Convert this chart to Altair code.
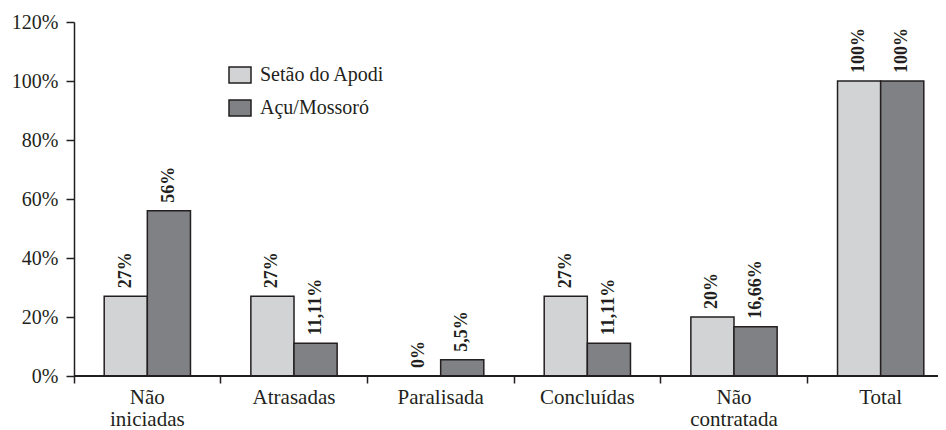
import altair as alt
import pandas as pd

categories = ["Não iniciadas", "Atrasadas", "Paralisada", "Concluídas", "Não contratada", "Total"]
series = ["Setão do Apodi", "Açu/Mossoró"]
setao_values = [27, 27, 0, 27, 20, 100]
acu_values = [56, 11.11, 5.5, 11.11, 16.66, 100]
setao_labels = ["27%", "27%", "0%", "27%", "20%", "100%"]
acu_labels = ["56%", "11,11%", "5,5%", "11,11%", "16,66%", "100%"]
y_ticks = [0, 20, 40, 60, 80, 100, 120]

rows = []
for c, v, l in zip(categories, setao_values, setao_labels):
    rows.append({"cat": c, "serie": series[0], "valor": v, "rotulo": l})
for c, v, l in zip(categories, acu_values, acu_labels):
    rows.append({"cat": c, "serie": series[1], "valor": v, "rotulo": l})
df = pd.DataFrame(rows)

FONT = "Liberation Serif"
INK = "#231f20"

x_enc = alt.X(
    "cat:N",
    sort=categories,
    title=None,
    scale=alt.Scale(paddingInner=0, paddingOuter=0, range=[0, 880]),
    axis=alt.Axis(
        labelAngle=0,
        bandPosition=0,
        domain=False,
        tickSize=7,
        tickColor=INK,
        tickWidth=1.5,
        labelFont=FONT,
        labelFontSize=21,
        labelColor=INK,
        labelPadding=3,
        labelLineHeight=22,
        labelBaseline="top",
        labelExpr="datum.label == 'Não iniciadas' ? ['Não', 'iniciadas'] : datum.label == 'Não contratada' ? ['Não', 'contratada'] : datum.label",
    ),
)

xoff_enc = alt.XOffset(
    "serie:N", sort=series, scale=alt.Scale(paddingInner=0, paddingOuter=0.7)
)

y_enc = alt.Y(
    "valor:Q",
    title=None,
    scale=alt.Scale(domain=[0, 120], nice=False),
    axis=alt.Axis(
        values=y_ticks,
        grid=False,
        tickSize=8,
        tickColor=INK,
        tickWidth=1.5,
        domainColor=INK,
        domainWidth=1.5,
        labelFont=FONT,
        labelFontSize=20,
        labelColor=INK,
        labelPadding=8,
        labelExpr="datum.value + '%'",
    ),
)

color_enc = alt.Color(
    "serie:N",
    sort=series,
    title=None,
    scale=alt.Scale(domain=series, range=["#d1d3d4", "#808184"]),
    legend=alt.Legend(
        orient="none",
        legendX=154,
        legendY=41,
        padding=0,
        symbolType="M-1,-0.727H1V0.727H-1Z",
        symbolSize=484,
        symbolStrokeColor=INK,
        symbolStrokeWidth=1.5,
        symbolOpacity=1,
        labelFont=FONT,
        labelFontSize=20,
        labelColor=INK,
        labelOffset=8,
        rowPadding=10,
    ),
)

bars = alt.Chart(df).mark_bar(stroke=INK, strokeWidth=1.5).encode(
    x=x_enc,
    xOffset=xoff_enc,
    y=y_enc,
    color=color_enc,
)

baseline = alt.Chart(df).mark_rule(color=INK, strokeWidth=1.5).encode(
    y=alt.datum(0),
    x=alt.value(0),
    x2=alt.value(864),
)

labels = alt.Chart(df).mark_text(
    angle=270,
    align="left",
    baseline="middle",
    dx=8,
    font=FONT,
    fontSize=18,
    fontWeight="bold",
    color=INK,
).encode(
    x=alt.X("cat:N", sort=categories),
    xOffset=xoff_enc,
    y=alt.Y("valor:Q"),
    text="rotulo:N",
)

chart = (
    alt.layer(bars, baseline, labels)
    .properties(
        width=864,
        height=354,
        autosize=alt.AutoSizeParams(type="none"),
        padding={"left": 66, "top": 14, "right": 0, "bottom": 56},
    )
    .configure_view(stroke=None)
)

chart.save("out.html", embed_options={"renderer": "svg", "actions": False})
